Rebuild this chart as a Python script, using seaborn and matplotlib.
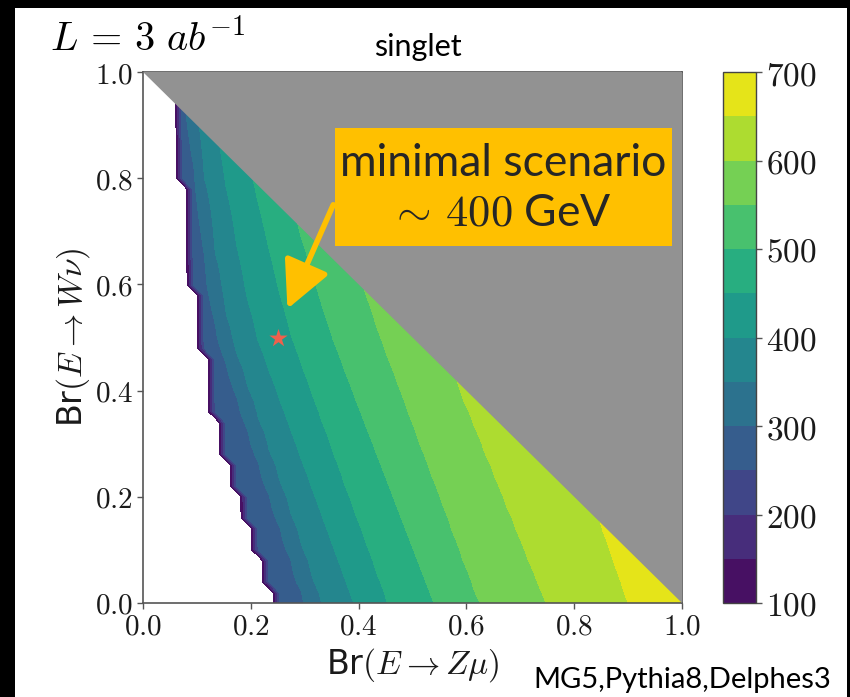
import numpy as np
import matplotlib
matplotlib.use("Agg")
import matplotlib.pyplot as plt
from matplotlib.patches import Rectangle, Polygon
import seaborn as sns

# Rows of Br(E -> W nu) at which the mass-reach contours are tabulated
row_y = [0.0, 0.1, 0.2, 0.3, 0.4, 0.5, 0.6, 0.7, 0.8, 0.9, 1.0]
mass_levels = [250, 300, 350, 400, 450, 500, 550, 600, 650, 700]

# Br(E -> Z mu) position of each mass contour (GeV) along those rows
x_250 = [0.240, 0.205, 0.180, 0.140, 0.125, 0.105, 0.088, 0.080, 0.068, 0.060, 0.050]
x_300 = [0.301, 0.269, 0.236, 0.204, 0.171, 0.139, 0.120, 0.109, 0.097, 0.085, 0.073]
x_350 = [0.329, 0.296, 0.263, 0.229, 0.196, 0.163, 0.143, 0.128, 0.114, 0.100, 0.086]
x_400 = [0.391, 0.355, 0.319, 0.283, 0.247, 0.211, 0.187, 0.169, 0.151, 0.134, 0.116]
x_450 = [0.453, 0.418, 0.382, 0.347, 0.311, 0.276, 0.249, 0.226, 0.203, 0.181, 0.158]
x_500 = [0.540, 0.502, 0.464, 0.426, 0.388, 0.351, 0.319, 0.290, 0.261, 0.232, 0.203]
x_550 = [0.623, 0.586, 0.550, 0.513, 0.477, 0.440, 0.407, 0.375, 0.343, 0.312, 0.280]
x_600 = [0.747, 0.707, 0.667, 0.627, 0.587, 0.551, 0.516, 0.481, 0.446, 0.411, 0.376]
x_650 = [0.899, 0.865, 0.831, 0.797, 0.763, 0.729, 0.695, 0.661, 0.627, 0.593, 0.559]
x_700 = [1.100, 1.070, 1.040, 1.000, 0.970, 0.930, 0.900, 0.860, 0.830, 0.790, 0.760]
contour_x = [x_250, x_300, x_350, x_400, x_450, x_500, x_550, x_600, x_650, x_700]

# Lower edge of the sensitive region: from row edge_y[i] upward, points with
# Br(E -> Z mu) below edge_x[i] have no reach
edge_y = [0.00, 0.04, 0.10, 0.16, 0.22, 0.28, 0.36, 0.48, 0.60, 0.80]
edge_x = [0.254, 0.234, 0.214, 0.194, 0.174, 0.154, 0.134, 0.114, 0.094, 0.074]

# Benchmark point
bench_x = [0.25]
bench_y = [0.50]

fill_levels = np.arange(100, 701, 50)
cbar_ticks = [100, 200, 300, 400, 500, 600, 700]
axis_ticks = [0.0, 0.2, 0.4, 0.6, 0.8, 1.0]

# Scan grid (step 0.02 in both branching ratios)
gx = np.round(np.arange(-0.006, 1.03, 0.02), 4)
gy = np.round(np.arange(0.0, 1.0001, 0.02), 4)
Z = np.zeros((len(gy), len(gx)))
for j, yv in enumerate(gy):
    xs = [np.interp(yv, row_y, col) for col in contour_x]
    z = np.interp(gx, xs, mass_levels)
    k = np.searchsorted(edge_y, yv + 1e-9, side="right") - 1
    z[gx < edge_x[k] - 1e-9] = 0.0
    Z[j] = z

sns.set_theme(style="ticks")
plt.rcParams["font.family"] = ["DejaVu Sans"]
plt.rcParams["mathtext.fontset"] = "cm"

W, H = 850, 697
fig = plt.figure(figsize=(W / 100, H / 100), dpi=100, facecolor="black")
fig.patches.append(Rectangle((15 / W, 0), (847 - 15) / W, (H - 8) / H,
                             transform=fig.transFigure, facecolor="white",
                             edgecolor="none", zorder=-10))

ax = fig.add_axes([143 / W, (H - 603) / H, 539 / W, 531 / H])
ax.set_facecolor("white")
cs = ax.contourf(gx, gy, Z, levels=fill_levels, cmap="viridis", zorder=1)
ax.add_patch(Polygon([[0, 1], [1, 1], [1, 0]], closed=True,
                     facecolor="#929292", edgecolor="none", zorder=3))

sns.scatterplot(x=bench_x, y=bench_y, marker="*", s=190, color="#f0604c",
                linewidth=0, ax=ax, zorder=5, legend=False)

ax.annotate("", xy=(0.268, 0.554), xytext=(0.353, 0.75),
            arrowprops=dict(arrowstyle="-|>,head_length=1.0,head_width=0.5",
                            mutation_scale=29, color="#FFC000", lw=4,
                            shrinkA=0, shrinkB=0),
            zorder=6)

ax.set_xlim(0, 1)
ax.set_ylim(0, 1)
ax.set_xticks(axis_ticks)
ax.set_yticks(axis_ticks)
ax.set_xticklabels([f"${t:.1f}$" for t in axis_ticks], fontsize=21)
ax.set_yticklabels([f"${t:.1f}$" for t in axis_ticks], fontsize=21)
ax.tick_params(direction="out", length=4, width=1, color="#555555",
               labelcolor="#1a1a1a", pad=3)
for s in ax.spines.values():
    s.set_color("#555555")
    s.set_linewidth(1.2)
    s.set_visible(True)
ax.set_xlabel(r"Br$(E \rightarrow Z\mu)$", fontsize=24, color="#1a1a1a", labelpad=4)
ax.set_ylabel(r"Br$(E \rightarrow W\nu)$", fontsize=24, color="#1a1a1a", labelpad=2)

cax = fig.add_axes([723 / W, (H - 603) / H, 33 / W, 531 / H])
cb = fig.colorbar(cs, cax=cax, ticks=cbar_ticks)
cb.ax.set_yticklabels([f"${t}$" for t in cbar_ticks], fontsize=24)
cb.ax.tick_params(direction="out", length=4, width=1, color="#555555",
                  labelcolor="#1a1a1a", pad=3)
cb.outline.set_edgecolor("#444444")
cb.outline.set_linewidth(1.0)

fig.text(50 / W, 1 - 40 / H, r"$L\,=\,3\ ab^{-1}$", fontsize=29,
         color="black", ha="left", va="center")
fig.text(418 / W, 1 - 47 / H, "singlet", fontsize=22, family="Lato",
         color="black", ha="center", va="center")

fig.patches.append(Rectangle((335 / W, 1 - 246 / H), (672 - 335) / W, (246 - 128) / H,
                             transform=fig.transFigure, facecolor="#FFC000",
                             edgecolor="none", zorder=5))
fig.text(503 / W, 1 - 163 / H, "minimal scenario", fontsize=32, family="Lato",
         color="#262626", ha="center", va="center", zorder=6)
fig.text(500 / W, 1 - 213 / H, r"$\sim\,400$ GeV", fontsize=32, family="Lato",
         color="#262626", ha="center", va="center", zorder=6)

fig.text(533 / W, 1 - 680 / H, "MG5,Pythia8,Delphes3", fontsize=21, family="Lato",
         color="black", ha="left", va="center")

fig.savefig("out.png", dpi=100, facecolor="black")
